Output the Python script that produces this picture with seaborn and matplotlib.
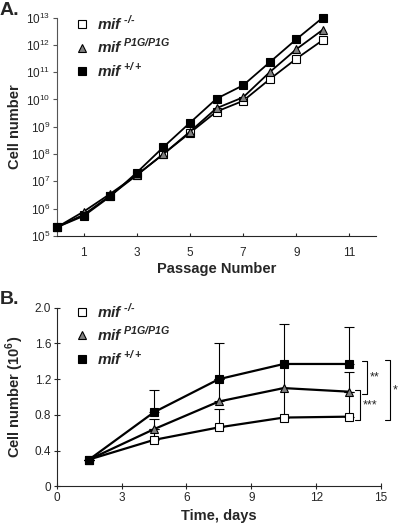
import numpy as np
import pandas as pd
import matplotlib
matplotlib.use('Agg')
import matplotlib.pyplot as plt
import seaborn as sns
from matplotlib.lines import Line2D
from matplotlib.ticker import LogLocator, NullLocator, FixedLocator

# Panel A: cumulative cell number per passage
passage = [0, 1, 2, 3, 4, 5, 6, 7, 8, 9, 10]
ko_cells = [2.1e5, 6.0e5, 3.0e6, 1.7e7, 1.0e8, 6.0e8, 3.6e9, 8.9e9, 5.5e10, 3.1e11, 1.5e12]
p1g_cells = [2.1e5, 7.8e5, 3.5e6, 1.7e7, 1.0e8, 6.6e8, 4.8e9, 1.2e10, 1.0e11, 6.9e11, 3.6e12]
wt_cells = [2.1e5, 5.4e5, 2.8e6, 2.1e7, 1.8e8, 1.4e9, 1.07e10, 3.3e10, 2.3e11, 1.6e12, 1.0e13]

# Panel B: cell number (10^6) over time
days = [1.5, 4.5, 7.5, 10.5, 13.5]
ko_b = [0.30, 0.52, 0.66, 0.77, 0.78]
p1g_b = [0.30, 0.64, 0.95, 1.10, 1.06]
wt_b = [0.30, 0.83, 1.20, 1.37, 1.37]
ko_err = [0, 0.12, 0.21, 0.33, 0.28]
p1g_err = [0, 0.11, 0.25, 0.27, 0.22]
wt_err = [0, 0.25, 0.40, 0.45, 0.41]

labels = [r'$\mathbfit{mif}^{\ \mathbfit{‐/‐}}$',
          r'$\mathbfit{mif}^{\ \mathbfit{P1G/P1G}}$',
          r'$\mathbfit{mif}^{\ \mathbfit{+/+}}$']
markers = ['s', '^', 's']
faces = ['white', '#808080', 'black']

# significance brackets: (x_left, x_right, y_top, y_bottom, text)
brackets = [(14.12, 14.35, 1.40, 1.03, '**'),
            (13.80, 14.02, 1.08, 0.74, '***'),
            (15.20, 15.43, 1.41, 0.74, '*')]

sns.set_style('ticks')
plt.rcParams['font.family'] = ['Liberation Sans', 'DejaVu Sans']
plt.rcParams['mathtext.fontset'] = 'custom'
plt.rcParams['mathtext.rm'] = 'Liberation Sans'
plt.rcParams['mathtext.bfit'] = 'Liberation Sans:italic:bold'
plt.rcParams['mathtext.bf'] = 'Liberation Sans:bold'

fig = plt.figure(figsize=(4.0, 5.27), dpi=100)
axA = fig.add_axes([0.1425, 0.5522, 0.7975, 0.4144])
axB = fig.add_axes([0.1418, 0.0772, 0.8107, 0.3389])

# ---- Panel A
dfA = pd.DataFrame({'passage': passage * 3,
                    'cells': ko_cells + p1g_cells + wt_cells,
                    'geno': ['ko'] * 11 + ['p1g'] * 11 + ['wt'] * 11})
for i, g in enumerate(['ko', 'p1g', 'wt']):
    sub = dfA[dfA['geno'] == g]
    sns.lineplot(data=sub, x='passage', y='cells', ax=axA, color='black', lw=1.3,
                 marker=markers[i], markersize=5.2, markerfacecolor=faces[i],
                 markeredgecolor='black', markeredgewidth=0.8, clip_on=False,
                 zorder=3 + i)
axA.set_yscale('log')
axA.set_xlim(0, 12)
axA.set_ylim(1e5, 1e13)
axA.yaxis.set_major_locator(LogLocator(base=10, numticks=20))
axA.yaxis.set_minor_locator(NullLocator())
axA.xaxis.set_major_locator(FixedLocator([1, 3, 5, 7, 9, 11]))
axA.tick_params(axis='x', direction='in', length=2.5, labelsize=8.5, pad=8)
axA.tick_params(axis='y', direction='out', length=3, labelsize=8.5, pad=2,
                color='#555555')
axA.spines['left'].set_color('#555555')
axA.set_xlabel('Passage Number', fontsize=10.5, fontweight='bold', labelpad=2)
axA.set_ylabel('Cell number', fontsize=10.5, fontweight='bold', labelpad=3)
sns.despine(ax=axA)

# ---- Panel B
for i, (vals, err) in enumerate([(ko_b, ko_err), (p1g_b, p1g_err), (wt_b, wt_err)]):
    axB.errorbar(days, vals, yerr=[np.zeros(len(err)), err], fmt='none',
                 ecolor='black', elinewidth=0.8, capsize=3.5, capthick=0.8, zorder=2)
dfB = pd.DataFrame({'days': days * 3, 'cells': ko_b + p1g_b + wt_b,
                    'geno': ['ko'] * 5 + ['p1g'] * 5 + ['wt'] * 5})
for i, g in enumerate(['ko', 'p1g', 'wt']):
    sub = dfB[dfB['geno'] == g]
    sns.lineplot(data=sub, x='days', y='cells', ax=axB, color='black', lw=1.6,
                 marker=markers[i], markersize=5.2, markerfacecolor=faces[i],
                 markeredgecolor='black', markeredgewidth=0.8, zorder=3 + i)
axB.set_xlim(0, 15)
axB.set_ylim(0, 2.0)
axB.set_xticks([0, 3, 6, 9, 12, 15])
axB.set_yticks([0, 0.4, 0.8, 1.2, 1.6, 2.0])
axB.set_yticklabels(['0', '0.4', '0.8', '1.2', '1.6', '2.0'])
axB.tick_params(direction='inout', length=4, labelsize=8.5, pad=2)
axB.set_xlabel('Time, days', fontsize=10.5, fontweight='bold', labelpad=4)
axB.set_ylabel(r'Cell number (10$^{\mathbf{6}}$)', fontsize=10.5, fontweight='bold', labelpad=6)
sns.despine(ax=axB)

for xl, xr, yt, yb, txt in brackets:
    axB.plot([xl, xr, xr, xl], [yt, yt, yb, yb], color='black', lw=0.8, clip_on=False)
    axB.text(xr + 0.12, (yt + yb) / 2, txt, fontsize=9, ha='left', va='center',
             clip_on=False)

# legends
for ax, top in ((axA, 1.058), (axB, 1.085)):
    handles = [Line2D([], [], ls='none', marker=markers[i], markersize=5.8,
                      markerfacecolor=faces[i], markeredgecolor='black',
                      markeredgewidth=0.8) for i in range(3)]
    ax.legend(handles, labels, loc='upper left', bbox_to_anchor=(0.025, top),
              frameon=False, fontsize=11, handlelength=1.0, handletextpad=0.5,
              labelspacing=0.32, borderaxespad=0.2)

fig.text(0.0, 0.997, 'A.', fontsize=14, fontweight='bold', ha='left', va='top')
fig.text(0.0, 0.447, 'B.', fontsize=14, fontweight='bold', ha='left', va='top')

fig.savefig('out.png', dpi=100)
